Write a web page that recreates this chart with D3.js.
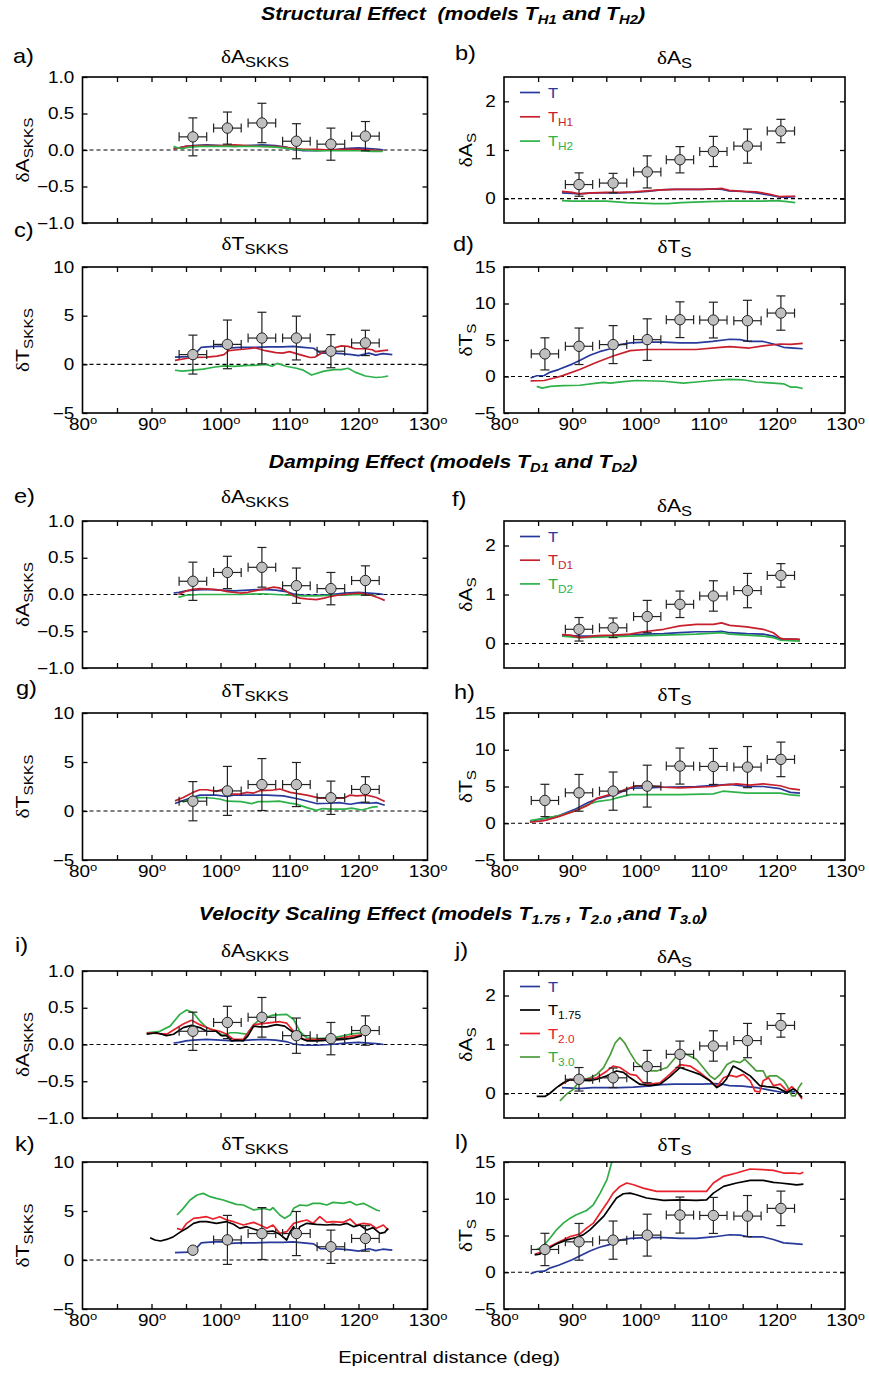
<!DOCTYPE html>
<html><head><meta charset="utf-8">
<script src="https://cdn.jsdelivr.net/npm/d3@7"></script>
<style>
body{margin:0;background:#fff}
svg{display:block}
text{font-family:"Liberation Sans",Arial,Helvetica,sans-serif;white-space:pre}
</style>
</head><body>
<svg id="chart" width="869" height="1373"></svg>
<script>
// ---------------- DATA ----------------
const xMajorTicks = [80, 90, 100, 110, 120, 130];
const xMinorTicks = [85, 90, 95, 100, 105, 110, 115, 120, 125];
const ticksA_SKKS = [-1, -0.5, 0, 0.5, 1];
const ticksA_S = [0, 1, 2];
const ticksT_SKKS = [-5, 0, 5, 10];
const ticksT_S = [-5, 0, 5, 10, 15];

// observations (gray dots)
const obsSKKS_x = [96, 101, 106, 111, 116, 121];
const obsA_SKKS = [0.18, 0.30, 0.37, 0.12, 0.08, 0.19];
const obsA_SKKS_err = [0.26, 0.22, 0.27, 0.24, 0.22, 0.20];
const obsT_SKKS = [1.0, 2.05, 2.7, 2.7, 1.35, 2.2];
const obsT_SKKS_err = [2.0, 2.5, 2.65, 2.25, 1.7, 1.3];
const obsA_S_x = [91, 96, 101, 105.8, 110.7, 115.7, 120.6];
const obsA_S = [0.29, 0.32, 0.55, 0.80, 0.97, 1.08, 1.39];
const obsA_S_err = [0.24, 0.20, 0.33, 0.27, 0.31, 0.35, 0.24];
const obsT_S_x = [86, 91, 96, 101, 105.8, 110.7, 115.7, 120.6];
const obsT_S = [3.1, 4.14, 4.37, 5.05, 7.78, 7.73, 7.64, 8.69];
const obsT_S_err = [2.2, 2.5, 2.6, 2.85, 2.45, 2.45, 2.8, 2.35];
const obsDistErr = 2;

// model T (reference)
const A_SKKS_T = [[93.2,0.02],[94,0.03],[95,0.05],[96,0.06],[98,0.07],[100,0.06],[102,0.05],[104,0.06],[106,0.07],[108,0.06],[109.5,0.04],[110.5,0.01],[112,-0.01],[114,-0.01],[116,0],[118,0.02],[120,0.03],[121.5,0.02],[123,0.01],[123.6,0]];
const A_S_T = [[88.5,0.12],[90,0.11],[91,0.1],[93,0.12],[95,0.12],[97,0.12],[99,0.13],[101,0.15],[103,0.18],[105,0.19],[107,0.19],[109,0.19],[111,0.2],[112,0.19],[113,0.16],[115,0.15],[117,0.12],[119,0.07],[120.5,0.03],[121.5,0.03],[122.7,0.04]];
const T_SKKS_T = [[93.4,0.75],[95.5,0.8],[96.5,1.2],[97.2,1.75],[98,1.8],[100,1.87],[101.5,1.7],[103,1.75],[105,1.75],[107,1.8],[109,1.8],[110.5,1.85],[112,1.75],[113.5,1.65],[114.5,1.15],[116,1.15],[117.5,1.1],[119,1.0],[120,0.9],[121.5,1.15],[122.5,0.95],[123.5,1.1],[124.9,1.0]];
const T_S_T = [[83.9,-0.2],[84.8,0.1],[85.9,0.14],[86.8,0.6],[88,0.95],[90,1.7],[91.1,2.2],[92.6,2.9],[94,3.4],[95.6,3.8],[97,4.36],[98.5,4.6],[100.9,4.7],[103.4,4.7],[105.8,4.6],[108.2,4.6],[110.6,4.8],[113.1,5.1],[114.6,5.05],[116,4.8],[118,4.8],[119.5,4.45],[121,4.0],[122.5,3.9],[123.8,3.8]];

// structural models
const A_SKKS_H1 = [[93.2,0.02],[94,0.03],[95,0.05],[97,0.06],[100,0.06],[102,0.07],[104,0.06],[106,0.05],[108,0.05],[110,0.03],[112,0.01],[114,0.01],[116,0],[118,0.01],[120,0.01],[122,0],[123.5,-0.01]];
const A_SKKS_H2 = [[93.2,0.05],[93.8,0.03],[94.5,0.02],[95.5,0.04],[97,0.05],[100,0.05],[103,0.05],[106,0.05],[108,0.04],[110,0.02],[112,0],[114,-0.01],[117,-0.01],[120,-0.01],[122,-0.02],[123.5,-0.02]];
const A_S_H1 = [[88.5,0.15],[90,0.13],[91,0.1],[93,0.12],[95,0.13],[97,0.13],[99,0.14],[101,0.16],[103,0.18],[105,0.19],[107,0.19],[109,0.19],[111,0.2],[112,0.21],[113,0.17],[115,0.15],[117,0.14],[119,0.09],[120.5,0.04],[121.5,0.05],[122.7,0.05]];
const A_S_H2 = [[88.5,-0.04],[90,-0.05],[92,-0.05],[95,-0.05],[98,-0.08],[100,-0.09],[102,-0.1],[104,-0.1],[106,-0.08],[108,-0.07],[110,-0.06],[113,-0.05],[116,-0.05],[118,-0.05],[120,-0.04],[121.5,-0.06],[122.7,-0.08]];
const T_SKKS_H1 = [[93.4,0.41],[95,0.6],[96,0.7],[98,0.75],[99.5,0.85],[100.5,1.0],[101.2,1.4],[102.5,1.5],[104,1.6],[105,1.7],[106.5,1.4],[108,1.2],[109,1.15],[110,1.3],[111,1.1],[112,0.9],[113,0.7],[113.7,0.75],[115,1.3],[116,1.6],[117.5,1.9],[118.5,1.85],[119.5,1.6],[121,1.6],[122,1.5],[122.5,1.3],[123.5,1.4],[124.3,1.45]];
const T_SKKS_H2 = [[93.4,-0.61],[94.5,-0.7],[96,-0.6],[97.5,-0.5],[99,-0.3],[100.5,-0.15],[102,-0.2],[104,-0.1],[105,-0.1],[106.5,0],[107.5,-0.2],[108.2,0.1],[109.5,-0.2],[111,-0.4],[112,-0.6],[113.2,-1.1],[115,-0.7],[116.5,-0.55],[117.5,-0.55],[118.5,-0.4],[119.5,-0.8],[121,-1.2],[122.5,-1.35],[123.5,-1.3],[124.3,-1.2]];
const T_S_H1 = [[83.9,-0.6],[85.9,-0.55],[87.8,-0.1],[88.7,0.15],[91.1,0.95],[93.6,1.95],[96,2.8],[98.5,3.55],[100.9,3.7],[103.4,3.7],[108.2,3.7],[111.7,4.0],[113.1,4.1],[116,3.9],[118,4.2],[120.5,4.45],[122,4.4],[123.8,4.55]];
const T_S_H2 = [[84.8,-1.35],[85.6,-1.6],[86.8,-1.35],[88.7,-1.25],[91.1,-1.2],[93.6,-0.9],[94.6,-0.8],[95.6,-0.9],[97.5,-0.7],[99.4,-0.55],[103.4,-0.65],[106.3,-0.9],[108.2,-0.75],[110.6,-0.55],[113.1,-0.4],[115,-0.45],[117,-0.75],[119.5,-0.9],[121,-1.0],[122,-1.45],[122.9,-1.45],[123.8,-1.65]];

// damping models
const A_S_T_damp = [[88.5,0.16],[90,0.16],[91.1,0.15],[93.6,0.15],[96,0.16],[98.5,0.18],[101,0.19],[103.4,0.2],[105.8,0.22],[108.2,0.24],[110.7,0.24],[111.9,0.25],[113.1,0.22],[115.6,0.2],[118,0.19],[119.5,0.15],[120.5,0.09],[122,0.09],[123.4,0.08]];
const T_SKKS_T_damp = [[93.4,0.76],[95.1,1.2],[97,1.62],[99.4,1.62],[100.9,1.48],[101.9,1.62],[104.3,1.62],[106.7,1.62],[109.1,1.55],[111.5,1.2],[113.9,0.76],[115.8,0.79],[117.2,0.86],[118.8,0.69],[120.2,0.86],[121.6,0.79],[122.6,0.86],[123.8,0.59]];
const T_S_T_damp = [[83.8,0.27],[88,1.0],[90.5,1.95],[92.4,2.86],[93.6,3.3],[96.5,4.0],[98.5,4.77],[100.9,4.8],[103.4,4.9],[108.2,5.0],[113.1,5.3],[115.6,5.0],[118,5.0],[120.5,4.7],[122,4.2],[123.4,4.1]];
const A_SKKS_D1 = [[93.9,0.0],[95.1,0.05],[96,0.07],[97,0.08],[99,0.07],[100,0.06],[101,0.04],[102.8,0.02],[104,0.03],[104.9,0.05],[106.7,0.08],[107.7,0.1],[108.5,0.09],[109.3,0.06],[110.6,-0.02],[111.5,-0.05],[112.5,-0.06],[113.9,-0.07],[115,-0.05],[115.8,-0.03],[117,-0.01],[118.8,0.01],[120.3,0.02],[121.8,-0.01],[122.8,-0.04],[123.8,-0.08]];
const A_SKKS_D2 = [[93.9,-0.04],[95,-0.01],[97,0],[100,0],[103,0],[106,0.01],[108,0],[110,-0.01],[112,-0.02],[114,-0.02],[116,-0.01],[118,-0.01],[120,0],[121,-0.01],[122.6,-0.01]];
const A_S_D1 = [[88.5,0.18],[89.7,0.17],[91.1,0.12],[92.5,0.14],[93.6,0.16],[96,0.17],[98.5,0.19],[100.4,0.24],[103.4,0.29],[105.8,0.36],[108.2,0.39],[110.7,0.39],[111.9,0.42],[113.1,0.37],[115.6,0.34],[118,0.29],[119.5,0.22],[120.5,0.11],[121,0.09],[122.9,0.09],[123.4,0.08]];
const A_S_D2 = [[88.5,0.15],[91.1,0.12],[93.6,0.13],[98.5,0.15],[103.4,0.17],[108.2,0.19],[111.9,0.22],[113.1,0.19],[118,0.15],[119.5,0.12],[120.5,0.07],[123.4,0.05]];
const T_SKKS_D1 = [[93.4,1.03],[94.6,1.38],[96,1.9],[97,2.17],[98,2.17],[99.4,2.0],[100.4,2.24],[101.4,1.72],[102.8,1.72],[103.8,1.9],[104.8,1.83],[105.7,2.07],[107.6,2.14],[108.6,2.24],[110.1,1.9],[112.5,1.62],[114.4,1.31],[116.3,1.34],[117.8,1.31],[118.8,1.62],[119.7,1.55],[121.2,1.62],[122.6,1.38],[123.8,0.97]];
const T_SKKS_D2 = [[94.5,0.9],[95.2,1.1],[96,1.35],[97,1.38],[98,1.35],[99,1.3],[100,1.2],[101,1.0],[103,0.95],[104.5,0.75],[105.5,0.95],[107,0.95],[108.5,1.0],[110,0.8],[111,0.7],[112.5,0.35],[113.9,0.07],[114.8,0.25],[116,0.2],[118,0.2],[119,0.3],[120.5,0.1],[121.3,0.25],[122,0.4],[122.8,0.45]];
const T_S_D1 = [[83.8,0.14],[85.9,0.36],[88,0.9],[90.5,1.7],[92.4,2.5],[93.6,3.4],[95.1,3.8],[96.5,4.1],[98,4.7],[99.4,5.1],[101.4,5.1],[103.4,4.9],[105.8,4.8],[108.2,4.9],[110.7,5.0],[112.1,5.2],[114.1,5.35],[116,5.2],[118,5.35],[120.5,5.1],[122,4.7],[123.4,4.55]];
const T_S_D2 = [[83.8,0.36],[88,1.0],[90.5,1.7],[92.4,2.6],[93.6,2.95],[95.6,3.2],[97,3.55],[98.5,3.9],[100.9,3.9],[105.8,3.9],[110.7,4.0],[112.1,4.36],[115.6,4.1],[120.5,4.1],[122,3.86],[123.4,3.77]];

// velocity scaling models
const A_SKKS_175 = [[89.3,0.14],[90.75,0.16],[92.2,0.12],[93.2,0.14],[94.6,0.23],[95.8,0.26],[97.0,0.23],[98.0,0.18],[99.4,0.18],[100.1,0.12],[100.9,0.12],[101.6,0.05],[102.3,0.06],[103.3,0.05],[104.0,0.12],[104.8,0.25],[105.7,0.24],[106.7,0.24],[108.1,0.27],[109.3,0.25],[110.6,0.16],[111.5,0.09],[112.5,0.05],[113.9,0.05],[115.9,0.06],[117.8,0.07],[119.3,0.09],[120.5,0.12]];
const A_SKKS_20 = [[89.3,0.16],[92.2,0.14],[94.6,0.28],[95.8,0.33],[97.0,0.27],[98.5,0.21],[99.9,0.18],[100.9,0.14],[101.9,0.07],[103.3,0.07],[104.0,0.16],[104.8,0.27],[106.7,0.29],[108.6,0.31],[109.6,0.29],[110.6,0.18],[112.0,0.07],[113.9,0.07],[116.3,0.07],[118.8,0.11],[120.5,0.13]];
const A_SKKS_30 = [[89.3,0.16],[91.2,0.18],[92.7,0.25],[94.1,0.41],[95.1,0.47],[96.1,0.43],[97.0,0.32],[98.0,0.23],[99.4,0.18],[100.4,0.12],[101.4,0.16],[102.3,0.16],[103.8,0.14],[104.8,0.27],[105.7,0.34],[107.6,0.40],[109.6,0.41],[110.6,0.34],[111.5,0.18],[112.5,0.09],[113.9,0.08],[116.3,0.09],[118.8,0.14],[120.5,0.16]];
const A_S_175 = [[84.8,-0.06],[86.0,-0.06],[86.7,0],[87.7,0.12],[88.7,0.22],[89.7,0.28],[91.1,0.27],[92.6,0.26],[93.6,0.29],[95.1,0.36],[96.5,0.46],[97.5,0.43],[98.5,0.32],[99.9,0.19],[101.4,0.16],[102.9,0.19],[104.3,0.34],[105.8,0.53],[107.3,0.46],[108.7,0.39],[110.2,0.26],[111.2,0.12],[111.9,0.18],[112.6,0.29],[113.6,0.56],[114.6,0.49],[116.1,0.36],[117.5,0.16],[118.5,0.14],[120.0,0.12],[121.5,0.02],[122.4,0.09],[122.9,0.05],[123.7,-0.08]];
const A_S_20 = [[88.0,0.15],[89.7,0.29],[91.6,0.28],[93.6,0.32],[95.1,0.46],[96.0,0.56],[97.0,0.53],[98.5,0.39],[99.4,0.37],[100.4,0.22],[101.4,0.19],[102.9,0.22],[104.3,0.39],[105.8,0.59],[107.3,0.56],[108.7,0.43],[110.2,0.26],[111.2,0.14],[112.2,0.32],[113.1,0.37],[114.1,0.34],[115.1,0.39],[116.1,0.26],[116.8,0.05],[117.5,0.03],[118.0,0.26],[118.8,0.32],[119.5,0.16],[120.5,0.19],[121.5,0.05],[122.2,0.14],[122.9,0.05],[123.7,-0.11]];
const A_S_30 = [[88.2,-0.15],[89.2,-0.01],[90.2,0.09],[91.1,0.26],[92.6,0.32],[93.6,0.39],[94.6,0.53],[95.6,0.8],[96.3,1.03],[97.0,1.14],[97.7,1.03],[98.5,0.83],[99.4,0.63],[100.9,0.46],[102.4,0.46],[103.9,0.53],[105.3,0.76],[106.3,0.83],[107.3,0.76],[108.2,0.7],[109.2,0.53],[110.2,0.36],[110.9,0.29],[111.7,0.39],[112.7,0.59],[113.6,0.66],[114.6,0.63],[115.3,0.7],[116.1,0.59],[117.0,0.46],[118.0,0.46],[118.5,0.32],[119.0,0.36],[120.0,0.36],[121.0,0.26],[121.5,0.16],[122.2,-0.05],[122.7,-0.05],[123.2,0.12],[123.7,0.22]];
const T_SKKS_175 = [[89.8,2.28],[90.5,2.04],[91.3,1.94],[92.2,2.1],[93.2,2.38],[94.1,2.82],[95.1,3.23],[96.1,3.74],[97.0,3.91],[98.0,3.91],[99.4,3.74],[100.9,3.91],[101.9,3.64],[102.8,3.23],[103.8,3.4],[104.8,3.16],[105.7,2.96],[106.7,2.89],[107.6,2.96],[108.6,2.62],[109.6,2.04],[110.1,2.89],[110.6,3.4],[111.0,2.55],[111.5,3.4],[112.5,3.74],[113.9,3.64],[115.4,3.57],[116.3,3.64],[117.3,3.57],[118.3,3.74],[119.3,3.4],[120.2,3.57],[121.2,3.06],[122.1,3.3],[123.1,2.72],[123.8,2.82],[124.3,3.23]];
const T_SKKS_20 = [[93.7,3.23],[94.4,3.06],[95.1,3.74],[96.1,4.25],[97.0,4.32],[98.0,4.42],[98.9,4.18],[99.9,4.42],[100.9,4.08],[101.9,3.91],[103.3,3.57],[104.8,3.84],[105.7,3.57],[106.7,3.23],[107.6,3.57],[108.6,2.72],[109.6,2.89],[110.6,3.74],[111.5,3.91],[112.5,4.08],[113.4,3.74],[114.4,4.42],[115.4,3.84],[116.3,3.91],[117.8,3.84],[118.8,4.18],[119.7,3.57],[120.7,3.74],[121.7,3.64],[122.6,3.23],[123.6,3.57],[124.3,3.06]];
const T_SKKS_30 = [[93.7,4.59],[94.6,5.27],[95.6,6.12],[96.6,6.63],[97.5,6.8],[98.5,6.46],[99.4,6.29],[100.4,6.12],[101.4,5.88],[102.3,5.68],[103.3,5.61],[104.8,5.1],[106.2,5.27],[107.2,5.1],[107.6,5.34],[108.6,4.59],[109.3,4.25],[110.1,4.59],[110.6,5.27],[111.5,5.61],[112.5,5.54],[113.4,5.78],[114.4,5.78],[115.4,5.61],[116.3,5.88],[117.8,5.78],[118.8,5.95],[119.7,5.61],[120.7,5.78],[121.7,5.44],[122.6,5.1],[123.1,5.0]];
const T_S_175 = [[84.5,2.36],[85.2,2.45],[86.2,3.05],[87.7,3.86],[89.2,4.4],[90.6,4.73],[91.6,5.09],[92.6,5.77],[93.6,6.68],[94.6,7.59],[95.8,9.18],[96.5,10.1],[97.5,10.68],[98.5,10.77],[99.4,10.55],[100.9,10.1],[103.4,9.77],[105.8,9.86],[108.2,9.77],[109.7,9.86],[110.7,10.77],[112.2,11.68],[114.1,12.14],[116.1,12.5],[118.0,12.5],[119.5,12.23],[120.5,12.14],[122.0,12.0],[122.9,11.9],[123.9,12.0]];
const T_S_20 = [[84.5,2.45],[85.7,2.82],[86.7,3.5],[88.2,4.18],[89.7,4.86],[91.1,5.18],[92.1,6.0],[93.1,6.68],[94.1,8.05],[95.1,9.41],[96.0,10.77],[97.0,11.68],[98.0,12.14],[99.0,11.9],[100.4,11.45],[102.4,11.0],[104.3,11.0],[106.3,11.0],[108.2,11.0],[109.7,11.0],[110.7,12.14],[112.2,13.05],[114.1,13.5],[116.1,14.05],[118.0,13.95],[119.5,13.86],[121.0,13.5],[122.4,13.5],[123.4,13.4],[123.9,13.6]];
const T_S_30 = [[84.8,3.1],[85.7,3.5],[86.7,4.6],[87.7,5.77],[88.7,6.68],[89.7,7.36],[90.6,7.82],[92.1,8.4],[93.1,9.18],[94.1,10.77],[95.1,12.6],[95.9,15.3]];

// ---------------- STYLE / LAYOUT ----------------
const C = {blue:"#27399b", red:"#c81f2d", green:"#2db24a", black:"#000000", red2:"#e8212a", green2:"#2fae48", greenJ:"#4a9c3a"};
const COL = {L:[82.5, 427.5], R:[504, 845]};
const ROW = [[77,223],[267,413],[521,668],[713,860],[971,1118],[1162,1309]];
const SX = 1.18; // horizontal stretch of lettering in the original figure

const QTY = {
  A_SKKS:{dom:[-1,1], ticks:ticksA_SKKS, fmt:d3.format(".1f"), L:"A", sub:"SKKS"},
  A_S:{dom:[-0.5,2.5], ticks:ticksA_S, fmt:d3.format("d"), L:"A", sub:"S"},
  T_SKKS:{dom:[-5,10], ticks:ticksT_SKKS, fmt:d3.format("d"), L:"T", sub:"SKKS"},
  T_S:{dom:[-5,15], ticks:ticksT_S, fmt:d3.format("d"), L:"T", sub:"S"}
};

const svg = d3.select("#chart");
const defs = svg.append("defs");

function stretch(sel, x, y) {
  sel.attr("transform", `translate(${x},${y}) scale(${SX},1)`);
}

function deltaLabel(txt, q, big, sub, subDy) {
  txt.append("tspan").attr("font-family","'Liberation Serif','Times New Roman',serif").attr("font-size", big).text("δ");
  txt.append("tspan").attr("font-size", big).text(q.L);
  txt.append("tspan").attr("font-size", sub).attr("dy", subDy).text(q.sub);
}

function drawPanel(p) {
  const [x0,x1] = COL[p.col];
  const [top,bot] = ROW[p.row];
  const q = QTY[p.q];
  const x = d3.scaleLinear().domain([80,130]).range([x0,x1]);
  const y = d3.scaleLinear().domain(q.dom).range([bot,top]);
  const g = svg.append("g");
  const cid = "clip_"+p.id;
  defs.append("clipPath").attr("id",cid).append("rect")
    .attr("x",x0).attr("y",top).attr("width",x1-x0).attr("height",bot-top);

  // zero line
  g.append("line").attr("x1",x0).attr("x2",x1).attr("y1",y(0)).attr("y2",y(0))
    .attr("stroke","#000").attr("stroke-width",1.1).attr("stroke-dasharray","4,3");

  // model lines
  const line = d3.line().x(d=>x(d[0])).y(d=>y(d[1]));
  const lg = g.append("g").attr("clip-path",`url(#${cid})`);
  p.lines.forEach(s => lg.append("path").datum(s.data).attr("d",line)
    .attr("fill","none").attr("stroke",s.color).attr("stroke-width",1.7).attr("stroke-linejoin","round"));

  // observations
  const og = g.append("g").attr("stroke","#222").attr("stroke-width",1.2);
  p.obs.x.forEach((xv,i) => {
    const cx = x(xv), cy = y(p.obs.v[i]);
    if (!(p.noErr && p.noErr.includes(i))) {
      const ya = y(p.obs.v[i]-p.obs.e[i]), yb = y(p.obs.v[i]+p.obs.e[i]);
      const xa = x(xv-obsDistErr), xb = x(xv+obsDistErr);
      og.append("line").attr("x1",cx).attr("x2",cx).attr("y1",ya).attr("y2",yb);
      og.append("line").attr("x1",cx-4.5).attr("x2",cx+4.5).attr("y1",ya).attr("y2",ya);
      og.append("line").attr("x1",cx-4.5).attr("x2",cx+4.5).attr("y1",yb).attr("y2",yb);
      og.append("line").attr("x1",xa).attr("x2",xb).attr("y1",cy).attr("y2",cy);
      og.append("line").attr("x1",xa).attr("x2",xa).attr("y1",cy-4.5).attr("y2",cy+4.5);
      og.append("line").attr("x1",xb).attr("x2",xb).attr("y1",cy-4.5).attr("y2",cy+4.5);
    }
    og.append("circle").attr("cx",cx).attr("cy",cy).attr("r",5.2).attr("fill","#bfbfbf").attr("stroke","#222").attr("stroke-width",1);
  });

  // frame
  g.append("rect").attr("x",x0).attr("y",top).attr("width",x1-x0).attr("height",bot-top)
    .attr("fill","none").attr("stroke","#000").attr("stroke-width",1.6);

  // axes (inward ticks)
  const axStyle = a => { a.select(".domain").remove(); a.selectAll(".tick line").attr("stroke","#000").attr("stroke-width",1.3); };
  const yl = g.append("g").attr("transform",`translate(${x0},0)`)
    .call(d3.axisLeft(y).tickValues(q.ticks).tickSize(-5).tickPadding(7).tickFormat(q.fmt)).call(axStyle);
  yl.selectAll("text").attr("font-size",16).attr("font-family",null).attr("fill","#000")
    .attr("transform",`scale(${SX},1)`);
  g.append("g").attr("transform",`translate(${x1},0)`)
    .call(d3.axisRight(y).tickValues(q.ticks).tickSize(-5).tickFormat("")).call(axStyle);
  g.append("g").attr("transform",`translate(0,${top})`)
    .call(d3.axisTop(x).tickValues(xMinorTicks).tickSize(-5).tickFormat("")).call(axStyle);
  g.append("g").attr("transform",`translate(0,${bot})`)
    .call(d3.axisBottom(x).tickValues(xMinorTicks).tickSize(-5).tickFormat("")).call(axStyle);
  if (p.xlab) {
    const xl = g.append("g").attr("transform",`translate(0,${bot})`)
      .call(d3.axisBottom(x).tickValues(xMajorTicks).tickSize(0).tickPadding(6).tickFormat(d3.format("d")));
    xl.select(".domain").remove();
    xl.selectAll("text").attr("font-size",16).attr("font-family",null).attr("fill","#000")
      .attr("transform",`scale(${SX},1)`)
      .append("tspan").attr("font-size",11).attr("dy",-6).text("o");
  }

  // y-axis title
  const yt = svg.append("text").attr("text-anchor","middle")
    .attr("transform",`translate(${p.col==="L"?29:472},${(top+bot)/2}) rotate(-90) scale(${SX},1)`);
  deltaLabel(yt, q, 18, 13, 4);

  // panel title
  const tt = svg.append("text").attr("text-anchor","middle");
  stretch(tt, (x0+x1)/2, p.titleY);
  deltaLabel(tt, q, 18, 14, 4);

  // panel letter
  const lt = svg.append("text").attr("font-size",20).text(p.id+")");
  stretch(lt, p.lab[0], p.lab[1]);

  // legend
  if (p.legend) {
    p.legend.forEach((e,i) => {
      const ly = top + 15.5 + i*p.legendStep;
      svg.append("line").attr("x1",x0+16).attr("x2",x0+36).attr("y1",ly).attr("y2",ly)
        .attr("stroke",e.color).attr("stroke-width",1.7);
      const t = svg.append("text").attr("fill",e.textColor||e.color);
      stretch(t, x0+44, ly+5);
      t.append("tspan").attr("font-size",14).text("T");
      if (e.sub) t.append("tspan").attr("font-size",10).attr("dy",4).text(e.sub);
    });
  }
}

const panels = [
  {id:"a", col:"L", row:0, q:"A_SKKS", lab:[13,63], titleY:63, xlab:false,
   lines:[{data:A_SKKS_T,color:C.blue},{data:A_SKKS_H1,color:C.red},{data:A_SKKS_H2,color:C.green}],
   obs:{x:obsSKKS_x, v:obsA_SKKS, e:obsA_SKKS_err}},
  {id:"b", col:"R", row:0, q:"A_S", lab:[455,60], titleY:64, xlab:false,
   lines:[{data:A_S_T,color:C.blue},{data:A_S_H2,color:C.green},{data:A_S_H1,color:C.red}],
   obs:{x:obsA_S_x, v:obsA_S, e:obsA_S_err}, legendStep:24.3,
   legend:[{color:C.blue},{color:C.red,sub:"H1"},{color:C.green,sub:"H2"}]},
  {id:"c", col:"L", row:1, q:"T_SKKS", lab:[14,237], titleY:250, xlab:true,
   lines:[{data:T_SKKS_T,color:C.blue},{data:T_SKKS_H1,color:C.red},{data:T_SKKS_H2,color:C.green}],
   obs:{x:obsSKKS_x, v:obsT_SKKS, e:obsT_SKKS_err}},
  {id:"d", col:"R", row:1, q:"T_S", lab:[453,251], titleY:253, xlab:true,
   lines:[{data:T_S_T,color:C.blue},{data:T_S_H1,color:C.red},{data:T_S_H2,color:C.green}],
   obs:{x:obsT_S_x, v:obsT_S, e:obsT_S_err}},
  {id:"e", col:"L", row:2, q:"A_SKKS", lab:[14,503], titleY:503, xlab:false,
   lines:[{data:A_SKKS_T,color:C.blue},{data:A_SKKS_D2,color:C.green},{data:A_SKKS_D1,color:C.red}],
   obs:{x:obsSKKS_x, v:obsA_SKKS, e:obsA_SKKS_err}},
  {id:"f", col:"R", row:2, q:"A_S", lab:[452,506], titleY:512, xlab:false,
   lines:[{data:A_S_T_damp,color:C.blue},{data:A_S_D2,color:C.green},{data:A_S_D1,color:C.red}],
   obs:{x:obsA_S_x, v:obsA_S, e:obsA_S_err}, legendStep:23.7,
   legend:[{color:C.blue},{color:C.red,sub:"D1"},{color:C.green,sub:"D2"}]},
  {id:"g", col:"L", row:3, q:"T_SKKS", lab:[16,695], titleY:697, xlab:true,
   lines:[{data:T_SKKS_T_damp,color:C.blue},{data:T_SKKS_D2,color:C.green},{data:T_SKKS_D1,color:C.red}],
   obs:{x:obsSKKS_x, v:obsT_SKKS, e:obsT_SKKS_err}},
  {id:"h", col:"R", row:3, q:"T_S", lab:[454,699], titleY:701, xlab:true,
   lines:[{data:T_S_T_damp,color:C.blue},{data:T_S_D2,color:C.green},{data:T_S_D1,color:C.red}],
   obs:{x:obsT_S_x, v:obsT_S, e:obsT_S_err}},
  {id:"i", col:"L", row:4, q:"A_SKKS", lab:[15,952], titleY:957, xlab:false,
   lines:[{data:A_SKKS_T,color:C.blue},{data:A_SKKS_30,color:C.green2},{data:A_SKKS_20,color:C.red2},{data:A_SKKS_175,color:C.black}],
   obs:{x:obsSKKS_x, v:obsA_SKKS, e:obsA_SKKS_err}},
  {id:"j", col:"R", row:4, q:"A_S", lab:[455,957], titleY:963, xlab:false,
   lines:[{data:A_S_T,color:C.blue},{data:A_S_30,color:C.greenJ},{data:A_S_20,color:C.red2},{data:A_S_175,color:C.black}],
   obs:{x:obsA_S_x, v:obsA_S, e:obsA_S_err}, legendStep:23.5,
   legend:[{color:C.blue},{color:C.black,sub:"1.75"},{color:C.red2,sub:"2.0"},{color:C.greenJ,textColor:C.green2,sub:"3.0"}]},
  {id:"k", col:"L", row:5, q:"T_SKKS", lab:[15,1151], titleY:1150, xlab:true, noErr:[0],
   lines:[{data:T_SKKS_T,color:C.blue},{data:T_SKKS_30,color:C.green2},{data:T_SKKS_20,color:C.red2},{data:T_SKKS_175,color:C.black}],
   obs:{x:obsSKKS_x, v:obsT_SKKS, e:obsT_SKKS_err}},
  {id:"l", col:"R", row:5, q:"T_S", lab:[455,1149], titleY:1151, xlab:true,
   lines:[{data:T_S_T,color:C.blue},{data:T_S_30,color:C.green2},{data:T_S_20,color:C.red2},{data:T_S_175,color:C.black}],
   obs:{x:obsT_S_x, v:obsT_S, e:obsT_S_err}}
];
panels.forEach(drawPanel);

// section headings: parts are [text, 0 = normal | 1 = subscript]
function heading(y, parts) {
  const t = svg.append("text").attr("text-anchor","middle").attr("font-weight","bold").attr("font-style","italic");
  stretch(t, 453, y);
  let prev = 0;
  parts.forEach(pt => {
    const s = t.append("tspan").text(pt[0]).attr("font-size", pt[1] === 1 ? 12.5 : 18);
    if (pt[1] === 1 && prev === 0) s.attr("dy", 4);
    if (pt[1] === 0 && prev === 1) s.attr("dy", -4);
    prev = pt[1];
  });
}
heading(20, [["Structural Effect  (models T",0],["H1",1],[" and T",0],["H2",1],[")",0]]);
heading(468, [["Damping Effect (models T",0],["D1",1],[" and T",0],["D2",1],[")",0]]);
heading(920, [["Velocity Scaling Effect (models T",0],["1.75",1],[" , T",0],["2.0",1],[" ,and T",0],["3.0",1],[")",0]]);

// x-axis title
const xt = svg.append("text").attr("text-anchor","middle").attr("font-size",17).text("Epicentral distance (deg)");
stretch(xt, 449, 1363);
</script>
</body></html>
